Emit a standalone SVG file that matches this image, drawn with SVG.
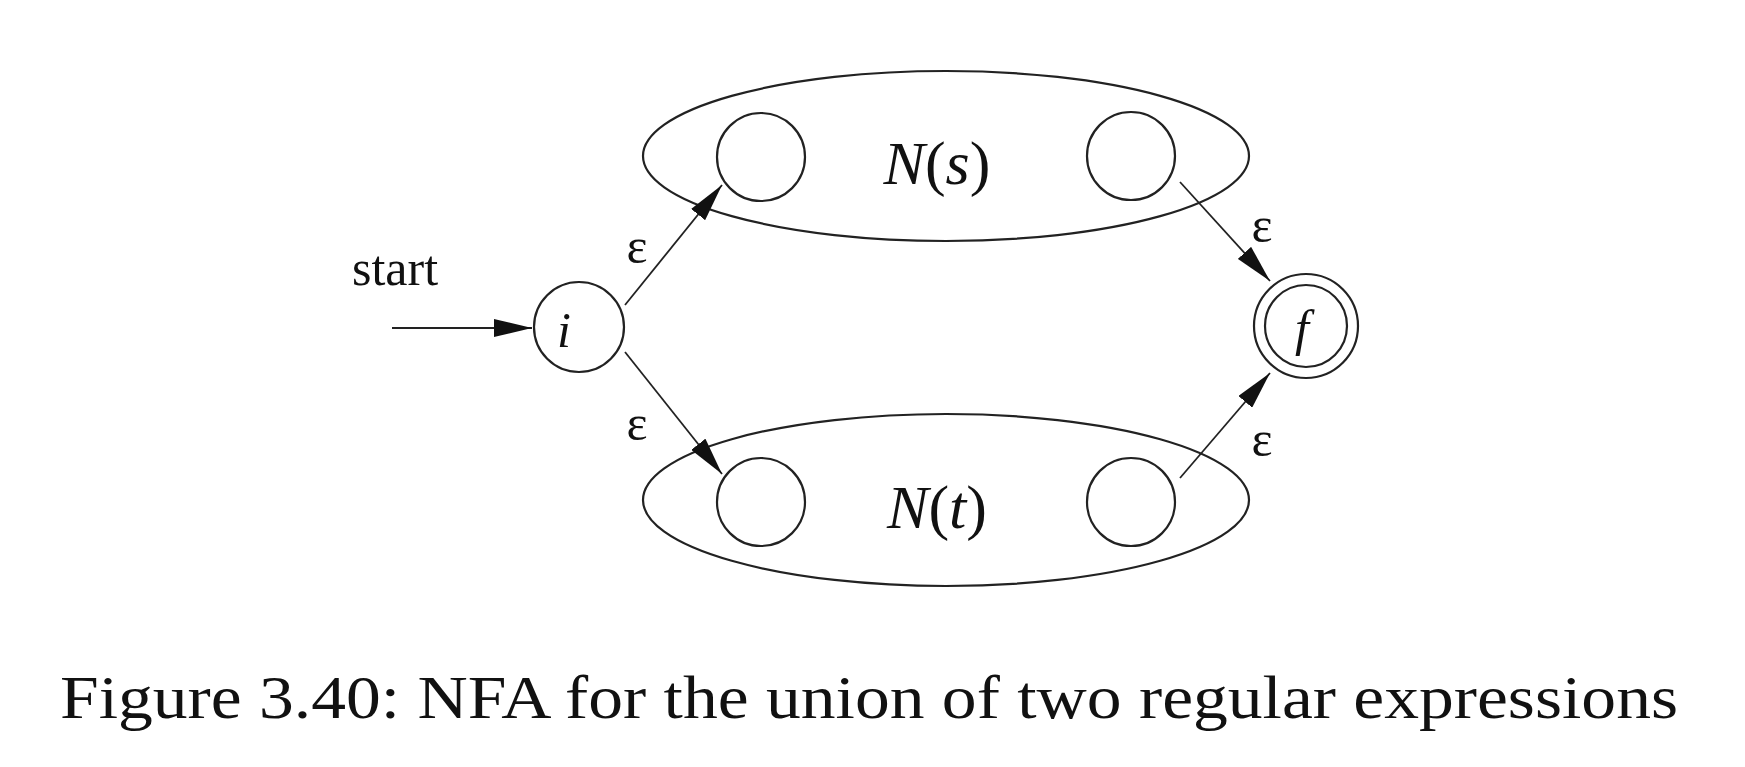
<svg xmlns="http://www.w3.org/2000/svg" width="1745" height="767" viewBox="0 0 1745 767">
<defs>
<style>
.st{fill:none;stroke:#222;stroke-width:2.2}
.ln{fill:none;stroke:#222;stroke-width:1.8}
.lb{font-family:"Liberation Serif","Times New Roman",serif;fill:#111}
.it{font-style:italic}
</style>
<marker id="ah" markerUnits="userSpaceOnUse" markerWidth="38" markerHeight="18" refX="38" refY="9" orient="auto">
<path d="M0,0 L38,9 L0,18 z" fill="#111"/>
</marker>
</defs>
<rect width="1745" height="767" fill="#fff"/>
<g id="Ns">
<ellipse class="st" cx="946" cy="156" rx="303" ry="85"/>
<text class="lb" x="937" y="184" font-size="62" text-anchor="middle"><tspan class="it">N</tspan>(<tspan class="it">s</tspan>)</text>
</g>
<g id="Nt">
<ellipse class="st" cx="946" cy="500" rx="303" ry="86"/>
<text class="lb" x="937" y="528" font-size="62" text-anchor="middle"><tspan class="it">N</tspan>(<tspan class="it">t</tspan>)</text>
</g>
<g id="s_start"><circle class="st" cx="761" cy="157" r="44"/></g>
<g id="s_end"><circle class="st" cx="1131" cy="156" r="44"/></g>
<g id="t_start"><circle class="st" cx="761" cy="502" r="44"/></g>
<g id="t_end"><circle class="st" cx="1131" cy="502" r="44"/></g>
<g id="i">
<circle class="st" cx="579" cy="327" r="45"/>
<text class="lb it" x="564" y="347" font-size="50" text-anchor="middle">i</text>
</g>
<g id="f">
<circle class="st" cx="1306" cy="326" r="52"/>
<circle class="st" cx="1306" cy="326" r="41"/>
<text class="lb it" x="1302" y="345" font-size="50" text-anchor="middle">f</text>
</g>
<g id="connectors">
<line class="ln" x1="392" y1="328" x2="532" y2="328" marker-end="url(#ah)"/>
<text class="lb" x="395" y="285" font-size="50" text-anchor="middle">start</text>
<line class="ln" x1="625" y1="305" x2="722" y2="185" marker-end="url(#ah)"/>
<text class="lb" x="637" y="263" font-size="50" text-anchor="middle">ε</text>
<line class="ln" x1="625" y1="352" x2="722" y2="474" marker-end="url(#ah)"/>
<text class="lb" x="637" y="440" font-size="50" text-anchor="middle">ε</text>
<line class="ln" x1="1180" y1="182" x2="1270" y2="281" marker-end="url(#ah)"/>
<text class="lb" x="1262" y="242" font-size="50" text-anchor="middle">ε</text>
<line class="ln" x1="1180" y1="478" x2="1270" y2="373" marker-end="url(#ah)"/>
<text class="lb" x="1262" y="456" font-size="50" text-anchor="middle">ε</text>
</g>
<text class="lb" x="60" y="718" font-size="61" textLength="1618" lengthAdjust="spacingAndGlyphs">Figure 3.40: NFA for the union of two regular expressions</text>
</svg>
